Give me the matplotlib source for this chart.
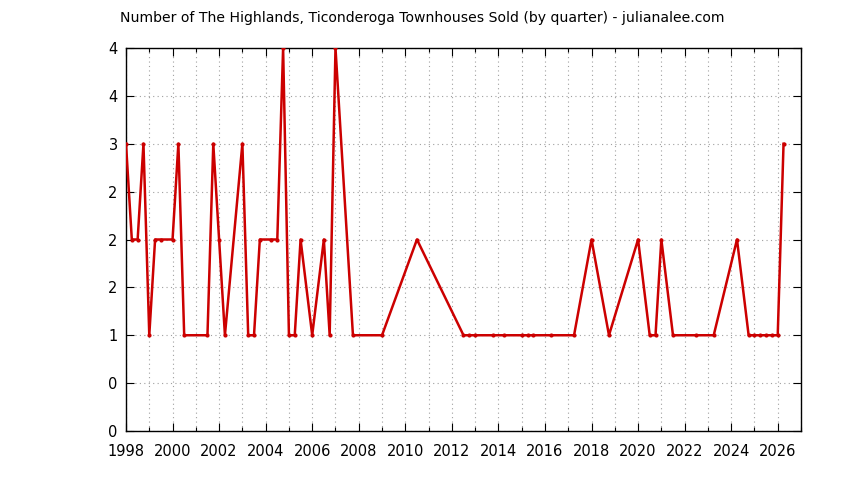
import matplotlib
matplotlib.use("Agg")
import matplotlib.pyplot as plt
from matplotlib.ticker import MultipleLocator, FuncFormatter

quarters = [1998.0, 1998.25, 1998.5, 1998.75, 1999.0, 1999.25, 1999.5, 2000.0, 2000.25, 2000.5,
            2001.5, 2001.75, 2002.0, 2002.25, 2003.0, 2003.25, 2003.5, 2003.75, 2004.25, 2004.5,
            2004.75, 2005.0, 2005.25, 2005.5, 2006.0, 2006.5, 2006.75, 2007.0, 2007.75, 2009.0,
            2010.5, 2012.5, 2012.75, 2013.0, 2013.75, 2014.25, 2015.0, 2015.25, 2015.5, 2016.25,
            2017.25, 2018.0, 2018.75, 2020.0, 2020.5, 2020.75, 2021.0, 2021.5, 2022.5, 2023.25,
            2024.25, 2024.75, 2025.0, 2025.25, 2025.5, 2025.75, 2026.0, 2026.25]
sold = [3, 2, 2, 3, 1, 2, 2, 2, 3, 1,
        1, 3, 2, 1, 3, 1, 1, 2, 2, 2,
        4, 1, 1, 2, 1, 2, 1, 4, 1, 1,
        2, 1, 1, 1, 1, 1, 1, 1, 1, 1,
        1, 2, 1, 2, 1, 1, 2, 1, 1, 1,
        2, 1, 1, 1, 1, 1, 1, 3]

title = "Number of The Highlands, Ticonderoga Townhouses Sold (by quarter) - julianalee.com"

plt.rcParams['font.family'] = ['DejaVu Sans']
fig = plt.figure(figsize=(8.44, 4.8), dpi=100)
ax = fig.add_axes([126/844, 1-431/480, (801-126)/844, (431-48)/480])

ax.plot(quarters, sold, color='#cc0000', linewidth=1.8, marker='o', markersize=3,
        markeredgewidth=0, zorder=3)

ax.set_xlim(1998, 2027)
ax.set_ylim(0, 4)
ax.xaxis.set_major_locator(MultipleLocator(2))
ax.xaxis.set_minor_locator(MultipleLocator(1))
ax.yaxis.set_major_locator(MultipleLocator(0.5))
ax.yaxis.set_major_formatter(FuncFormatter(lambda v, p: f"{v:.0f}"))
ax.xaxis.set_major_formatter(FuncFormatter(lambda v, p: f"{v:.0f}"))

ax.grid(True, which='both', axis='x', color='#a0a0a0', linestyle=(0, (1, 3)), linewidth=0.8)
ax.grid(True, which='major', axis='y', color='#a0a0a0', linestyle=(0, (1, 3)), linewidth=0.8)

ax.tick_params(which='both', direction='in', top=True, right=True, labelsize=10.5, colors='black')
ax.tick_params(which='major', length=6, width=0.8)
ax.tick_params(which='minor', length=3, width=0.8)
ax.tick_params(axis='x', which='major', pad=9)
ax.tick_params(axis='y', which='major', pad=6)
for s in ax.spines.values():
    s.set_linewidth(1.0)

fig.text(422/844, 1-18/480, title, ha='center', va='center', fontsize=10.1)

fig.savefig("out.png", dpi=100)
